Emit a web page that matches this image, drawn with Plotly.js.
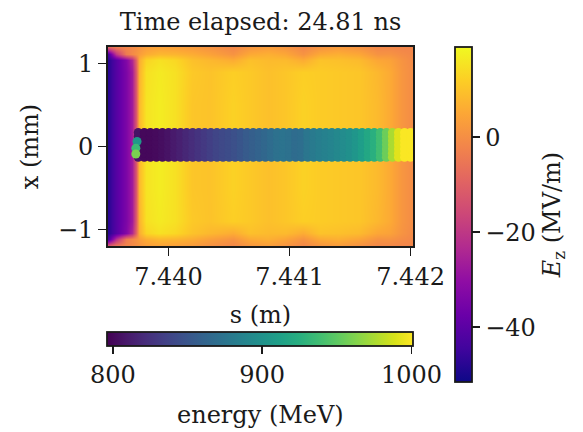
<!DOCTYPE html>
<html><head><meta charset="utf-8">
<script src="https://cdn.plot.ly/plotly-3.0.1.min.js"></script>
<style>html,body{margin:0;padding:0;background:#fff}</style>
</head><body><div id="chart" style="width:583px;height:432px"></div>
<script>
// Ez field grid (s in m, x in mm, Ez in MV/m)
const field_s = [7.43950, 7.43957, 7.43965, 7.43970, 7.43973, 7.43976, 7.43981, 7.43992, 7.44005, 7.44019, 7.44034, 7.44053, 7.44067, 7.44082, 7.44096, 7.44111, 7.44125, 7.44140, 7.44157, 7.44172, 7.44183, 7.44193, 7.44202];
const field_x = [-1.2, -1.12, -1.04, -0.9, -0.5, 0, 0.5, 0.9, 1.04, 1.12, 1.2];
const field_ez = [
  [-9, -4, -2, -1, 0, 1, 3, 4, 3.5, 2.5, 0.5, -1.5, 1.5, 3, 1, -1.5, 1, 2.5, 0.5, -1.5, -1.5, -2, -2],
  [-44, -22, -4, -1, 1, 3, 6, 8, 7.5, 6, 3.5, 1, 5.5, 6.5, 4.5, 1, 5.5, 6.5, 4.5, 1, 1, -0.5, -1.5],
  [-48, -41, -33, -24, -9, 6, 13, 15, 13.5, 10, 8, 6, 9.5, 8.5, 8.5, 6, 10, 9.5, 8.5, 5, 4, 1, -1],
  [-48, -41, -34, -27, -11, 7, 15, 16.5, 15, 11, 10, 12, 11, 9.5, 10.5, 12, 11.5, 11, 10.5, 8, 5.5, 1.5, -0.5],
  [-48, -41, -34, -27, -12, 8, 15.5, 17, 15, 10.5, 10, 12.5, 11, 9.5, 10.5, 12.5, 11.5, 11, 10.5, 8.5, 5.5, 1.5, -0.5],
  [-48, -41, -34, -27, -12, 8, 15.5, 17, 15, 10.5, 10, 12.5, 11, 9.5, 10.5, 12.5, 11.5, 11, 10.5, 8.5, 5.5, 1.5, -0.5],
  [-48, -41, -34, -27, -12, 8, 15.5, 17, 15, 10.5, 10, 12.5, 11, 9.5, 10.5, 12.5, 11.5, 11, 10.5, 8.5, 5.5, 1.5, -0.5],
  [-48, -41, -34, -27, -11, 7, 15, 16.5, 15, 11, 10, 12, 11, 9.5, 10.5, 12, 11.5, 11, 10.5, 8, 5.5, 1.5, -0.5],
  [-48, -41, -33, -24, -9, 6, 13, 15, 13.5, 9.5, 8, 6, 9.5, 8.5, 8.5, 6, 10, 9.5, 8.5, 5, 4, 1, -1],
  [-44, -20, -4, -1, 1, 3, 6, 8, 7.5, 6, 4, 1, 5.5, 6.5, 5, 1, 5.5, 6.5, 5, 1, 1, -0.5, -1.5],
  [-9, -4, -2, -1, 0, 1, 3, 4, 3.5, 2.5, 1, -1.5, 1.5, 3, 1.5, -1.5, 1, 2.5, 1, -1.5, -1.5, -2, -2]
];
// beam particles: column positions, energies per column, transverse rows
const beam_s = [7.43975, 7.43980, 7.43985, 7.43990, 7.43995, 7.44000, 7.44005, 7.44010, 7.44015, 7.44020, 7.44025, 7.44030, 7.44035, 7.44040, 7.44045, 7.44050, 7.44055, 7.44060, 7.44065, 7.44070, 7.44075, 7.44080, 7.44085, 7.44090, 7.44095, 7.44100, 7.44105, 7.44110, 7.44115, 7.44120, 7.44125, 7.44130, 7.44135, 7.44140, 7.44145, 7.44150, 7.44155, 7.44160, 7.44165, 7.44170, 7.44175, 7.44180, 7.44185, 7.44190, 7.44195, 7.44200];
const beam_energy = [806, 800, 800, 801, 803, 806, 810, 814, 818, 822, 826, 830, 834, 838, 841, 843, 846, 850, 854, 857, 860, 864, 868, 872, 874, 872, 868, 870, 876, 880, 883, 885, 888, 891, 895, 898, 903, 910, 918, 926, 938, 955, 975, 992, 1000, 1000];
const beam_rows = [-0.13, -0.08, -0.03, 0.02, 0.07, 0.12, 0.17];
const tail_s = [7.43974, 7.43973, 7.43973];
const tail_x = [0.06, -0.02, -0.09];
const tail_energy = [905, 935, 960];

const x_ticks = [7.440, 7.441, 7.442];
const x_tick_labels = ['7.440', '7.441', '7.442'];
const y_ticks = [-1, 0, 1];
const ez_ticks = [-40, -20, 0];
const energy_ticks = [800, 900, 1000];

const plasma = [[0,'#0d0887'],[0.1,'#41049d'],[0.2,'#6a00a8'],[0.3,'#8f0da4'],[0.4,'#b12a90'],[0.5,'#cc4778'],[0.6,'#e16462'],[0.7,'#f2844b'],[0.8,'#fca636'],[0.9,'#fcce25'],[1,'#f0f921']];

const bx = [], by = [], bc = [];
beam_s.forEach((s, i) => { beam_rows.forEach(r => { bx.push(s); by.push(r); bc.push(beam_energy[i]); }); });
tail_s.forEach((s, i) => { bx.push(s); by.push(tail_x[i]); bc.push(tail_energy[i]); });

const ink = '#1a1a1a';
const FS = 24;
const W = 583, H = 432;
// plot area in pixels
const PL = 108, PR = 413, PT = 47, PB = 246;
const PW = PR - PL, PH = PB - PT;

const traces = [
  {
    type: 'heatmap', x: field_s, y: field_x, z: field_ez, zsmooth: 'best',
    colorscale: plasma, zmin: -51.5, zmax: 19, hoverinfo: 'skip',
    colorbar: {
      xref: 'paper', yref: 'paper', x: (455 - PL) / PW, xanchor: 'left', y: 1 - (47 - PT) / PH, yanchor: 'top',
      lenmode: 'pixels', len: 335, thicknessmode: 'pixels', thickness: 17, xpad: 0, ypad: 0,
      outlinewidth: 1.8, outlinecolor: ink,
      tickvals: ez_ticks, ticks: 'outside', ticklen: 8, tickwidth: 1.8, tickcolor: ink,
      tickfont: {family: 'DejaVu Serif', size: FS, color: ink},
      title: {text: '<i>E</i><sub>z</sub> (MV/m)', side: 'right', font: {family: 'DejaVu Serif', size: FS, color: ink}}
    }
  },
  {
    type: 'scatter', mode: 'markers', x: bx, y: by, hoverinfo: 'skip',
    marker: {
      size: 9, color: bc, colorscale: 'Viridis', cmin: 796, cmax: 1001, line: {width: 0},
      colorbar: {
        orientation: 'h', xref: 'paper', yref: 'paper', x: (107 - PL) / PW, xanchor: 'left', y: 1 - (332 - PT) / PH, yanchor: 'top',
        lenmode: 'pixels', len: 306, thicknessmode: 'pixels', thickness: 14, xpad: 0, ypad: 0,
        outlinewidth: 1.8, outlinecolor: ink,
        tickvals: energy_ticks, ticks: 'outside', ticklen: 8, tickwidth: 1.8, tickcolor: ink,
        tickfont: {family: 'DejaVu Serif', size: FS, color: ink}
      }
    }
  }
];

const layout = {
  width: W, height: H,
  margin: {l: PL, r: W - PR, t: PT, b: H - PB},
  paper_bgcolor: '#fff', plot_bgcolor: '#fff',
  font: {family: 'DejaVu Serif', size: FS, color: ink},
  showlegend: false,
  title: {text: 'Time elapsed: 24.81 ns', x: 0.5, xref: 'paper', xanchor: 'center', y: 1 - 22 / H, yanchor: 'middle', font: {family: 'DejaVu Serif', size: FS, color: ink}},
  xaxis: {
    range: [7.4395, 7.44202], tickvals: x_ticks, ticktext: x_tick_labels,
    ticks: 'outside', ticklen: 8, tickwidth: 1.8, tickcolor: ink,
    showline: true, mirror: true, linewidth: 1.8, linecolor: ink, showgrid: false, zeroline: false,
    title: {text: 's (m)', standoff: 17, font: {family: 'DejaVu Serif', size: FS, color: ink}}
  },
  yaxis: {
    range: [-1.2, 1.2], tickvals: y_ticks,
    ticks: 'outside', ticklen: 8, tickwidth: 1.8, tickcolor: ink,
    showline: true, mirror: true, linewidth: 1.8, linecolor: ink, showgrid: false, zeroline: false,
    title: {text: 'x (mm)', standoff: 13, font: {family: 'DejaVu Serif', size: FS, color: ink}}
  },
  annotations: [
    {text: 'energy (MeV)', xref: 'paper', yref: 'paper', x: 0.5, y: 1 - (415 - PT) / PH, xanchor: 'center', yanchor: 'middle', showarrow: false, font: {family: 'DejaVu Serif', size: FS, color: ink}}
  ]
};

Plotly.newPlot('chart', traces, layout, {displayModeBar: false, staticPlot: true});
</script>
</body></html>
